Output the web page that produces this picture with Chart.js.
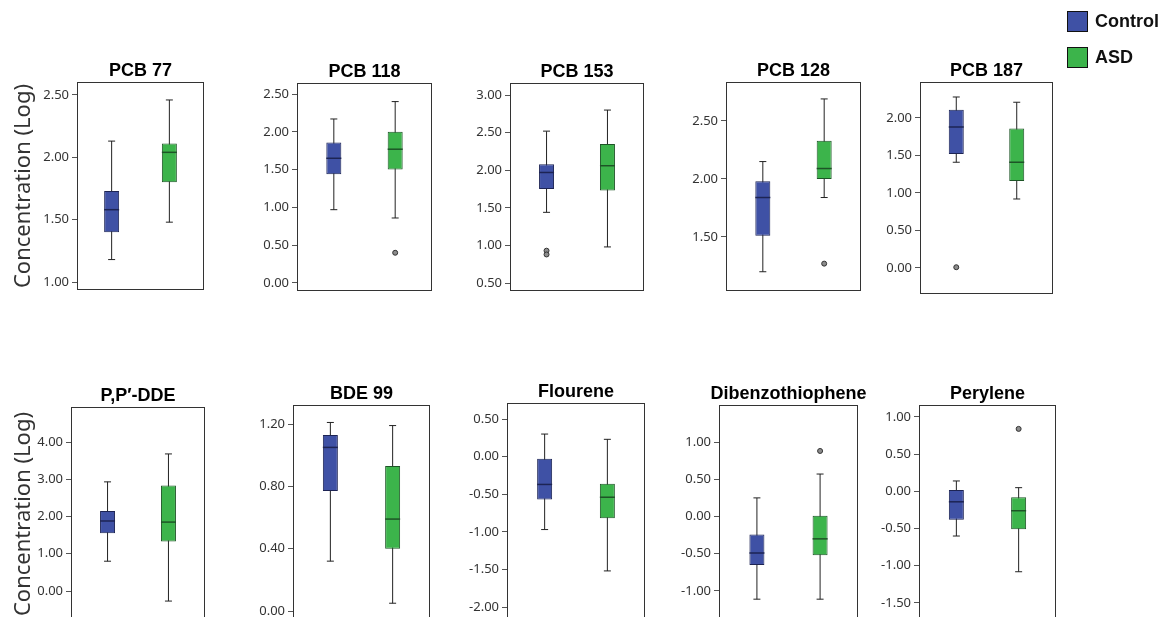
<!DOCTYPE html>
<html>
<head>
<meta charset="utf-8">
<script src="https://cdn.jsdelivr.net/npm/chart.js@4.4.1/dist/chart.umd.min.js"></script>
<style>
    html, body { margin: 0; padding: 0; background: #fff; overflow: hidden; }
    body { width: 1160px; height: 617px; position: relative; }
    canvas { position: absolute; }
    .swatch { position: absolute; left: 1067px; width: 19px; height: 19px; border: 1px solid #111; }
    .key { position: absolute; left: 1095px; font: bold 18px "Liberation Sans", Arial, sans-serif; color: #111; line-height: 21px; }
</style>
</head>
<body>
<div id="wrap"></div>
<div class="swatch" style="top:11px; background:#3f51a5"></div>
<div class="key" style="top:11px">Control</div>
<div class="swatch" style="top:47px; background:#3cb44b"></div>
<div class="key" style="top:47px">ASD</div>

<script>
var groups = ["Control", "ASD"];
var compounds = ["PCB 77", "PCB 118", "PCB 153", "PCB 128", "PCB 187",
                 "P,P\u2032-DDE", "BDE 99", "Flourene", "Dibenzothiophene", "Perylene"];

// [control, asd] per compound
var whiskerLow    = [[1.18, 1.48], [0.97, 0.86], [1.44, 0.98], [1.20, 1.84], [1.41, 0.92],
                     [0.80, -0.27], [0.32, 0.05], [-0.97, -1.52], [-1.11, -1.11], [-0.60, -1.08]];
var lowerQuartile = [[1.40, 1.80], [1.44, 1.50], [1.75, 1.73], [1.51, 2.00], [1.52, 1.16],
                     [1.55, 1.33], [0.77, 0.40], [-0.57, -0.82], [-0.65, -0.52], [-0.38, -0.51]];
var medians       = [[1.58, 2.04], [1.65, 1.77], [1.97, 2.06], [1.84, 2.09], [1.88, 1.41],
                     [1.88, 1.85], [1.05, 0.59], [-0.37, -0.54], [-0.49, -0.30], [-0.14, -0.26]];
var upperQuartile = [[1.73, 2.11], [1.86, 2.00], [2.08, 2.35], [1.98, 2.33], [2.11, 1.86],
                     [2.15, 2.83], [1.13, 0.93], [-0.03, -0.36], [-0.24, 0.01], [0.02, -0.08]];
var whiskerHigh   = [[2.13, 2.46], [2.17, 2.40], [2.52, 2.80], [2.15, 2.69], [2.28, 2.21],
                     [2.93, 3.68], [1.21, 1.19], [0.30, 0.23], [0.25, 0.57], [0.14, 0.05]];
var outliers      = [[[], []], [[], [0.40]], [[0.93, 0.88], []], [[], [1.27]], [[0.01], []],
                     [[], []], [[], []], [[], []], [[], [0.88]], [[], [0.84]]];

var tickValues = [
    [1.0, 1.5, 2.0, 2.5],
    [0, 0.5, 1.0, 1.5, 2.0, 2.5],
    [0.5, 1.0, 1.5, 2.0, 2.5, 3.0],
    [1.5, 2.0, 2.5],
    [0, 0.5, 1.0, 1.5, 2.0],
    [0, 1, 2, 3, 4],
    [0, 0.4, 0.8, 1.2],
    [-2.0, -1.5, -1.0, -0.5, 0, 0.5],
    [-1.0, -0.5, 0, 0.5, 1.0],
    [-1.5, -1.0, -0.5, 0, 0.5, 1.0]
];
var axisMin = [0.936, -0.106, 0.394, 1.034, -0.347, -0.805, -0.064, -2.186, -1.403, -1.742];
var axisMax = [2.604, 2.646, 3.160, 2.836, 2.48, 4.940, 1.322, 0.713, 1.497, 1.161];

// plot frame of each panel on the page: left, top, right, bottom
var frames = [
    [77, 82, 204, 290], [297, 83, 432, 291], [510, 83, 644, 291], [726, 82, 861, 291], [920, 82, 1053, 294],
    [71, 407, 205, 621], [293, 405, 430, 621], [507, 403, 645, 621], [719, 405, 858, 621], [919, 405, 1056, 621]
];

var fillColors = ["#3f51a5", "#3cb44b"];
var edgeColors = ["#1d2454", "#1d5426"];
var spareRight = 16;

var framePlugin = {
    id: "frame",
    afterLayout: function (chart) {
        // let long titles run past the frame instead of being squeezed
        if (chart.titleBlock) {
            chart.titleBlock.left -= 40;
            chart.titleBlock.right += 40;
        }
    },
    afterDraw: function (chart) {
        var a = chart.chartArea;
        var ctx = chart.ctx;
        ctx.save();
        ctx.strokeStyle = "#333";
        ctx.lineWidth = 1;
        ctx.strokeRect(Math.round(a.left) + 0.5, Math.round(a.top) + 0.5,
                       Math.round(a.right - a.left) - 1, Math.round(a.bottom - a.top) - 1);
        ctx.restore();
    }
};

function drawPanel(i) {
    var f = frames[i];
    var axisWidth = (i % 5 == 0) ? f[0] : 56;
    var canvas = document.createElement("canvas");
    canvas.width = axisWidth + (f[2] - f[0]) + spareRight;
    canvas.height = (f[3] - f[1]) + 28;
    canvas.style.left = (f[0] - axisWidth) + "px";
    canvas.style.top = (f[1] - 26) + "px";
    document.getElementById("wrap").appendChild(canvas);

    var box = [], whisker = [], mid = [], caps = [], dots = [];
    for (var g = 0; g < groups.length; g++) {
        box.push({ x: g, y: [lowerQuartile[i][g], upperQuartile[i][g]] });
        whisker.push({ x: g, y: [whiskerLow[i][g], whiskerHigh[i][g]] });
        mid.push({ x: g, y: medians[i][g] });
        caps.push({ x: g, y: whiskerLow[i][g] });
        caps.push({ x: g, y: whiskerHigh[i][g] });
        outliers[i][g].forEach(function (v) { dots.push({ x: g, y: v }); });
    }

    new Chart(canvas.getContext("2d"), {
        type: "bar",
        data: {
            datasets: [
                { type: "line", data: mid, showLine: false, pointStyle: "line", pointRadius: 7.5,
                  pointBorderWidth: 1.5, pointBorderColor: edgeColors, order: 0 },
                { type: "line", data: caps, showLine: false, pointStyle: "line", pointRadius: 3.5,
                  pointBorderWidth: 1, pointBorderColor: "#222", order: 0 },
                { type: "line", data: dots, showLine: false, pointStyle: "circle", pointRadius: 2.5,
                  pointBackgroundColor: "#8c8c8c", pointBorderColor: "#333", pointBorderWidth: 1, order: 0 },
                { data: box, backgroundColor: fillColors, borderColor: edgeColors, borderWidth: 1,
                  borderSkipped: false, grouped: false, maxBarThickness: 15, order: 1 },
                { data: whisker, backgroundColor: "#222", borderWidth: 0,
                  grouped: false, maxBarThickness: 1, order: 2 }
            ]
        },
        options: {
            responsive: false,
            animation: false,
            devicePixelRatio: 1,
            layout: { padding: { left: 0, top: 0, right: spareRight, bottom: 2 }, autoPadding: false },
            plugins: {
                legend: { display: false },
                tooltip: { enabled: false },
                title: {
                    display: true,
                    text: compounds[i],
                    fullSize: false,
                    color: "#000",
                    font: { family: "Liberation Sans", size: 18, weight: "bold", lineHeight: "22px" },
                    padding: { top: 4, bottom: 0 }
                }
            },
            scales: {
                x: { type: "linear", min: -0.6, max: 1.6, offset: false, display: false },
                y: {
                    min: axisMin[i],
                    max: axisMax[i],
                    afterFit: function (scale) {
                        scale.width = axisWidth;
                        // tick labels must not shrink the plot frame
                        scale.paddingTop = 0;
                        scale.paddingBottom = 0;
                    },
                    afterBuildTicks: function (scale) {
                        scale.ticks = tickValues[i].map(function (v) { return { value: v }; });
                    },
                    ticks: {
                        autoSkip: false,
                        padding: 3,
                        color: "#333",
                        font: { family: "Noto Sans", size: 13 },
                        callback: function (v) { return v.toFixed(2); }
                    },
                    grid: { drawOnChartArea: false, tickLength: 5, color: "#555" },
                    border: { display: false },
                    title: {
                        display: i % 5 == 0,
                        text: "Concentration (Log)",
                        color: "#333",
                        font: { family: "Noto Sans", size: 22 },
                        padding: { top: 11, bottom: 0 }
                    }
                }
            }
        },
        plugins: [framePlugin]
    });
}

window.onload = function () {
    for (var i = 0; i < compounds.length; i++) {
        drawPanel(i);
    }
};
</script>
</body>
</html>
